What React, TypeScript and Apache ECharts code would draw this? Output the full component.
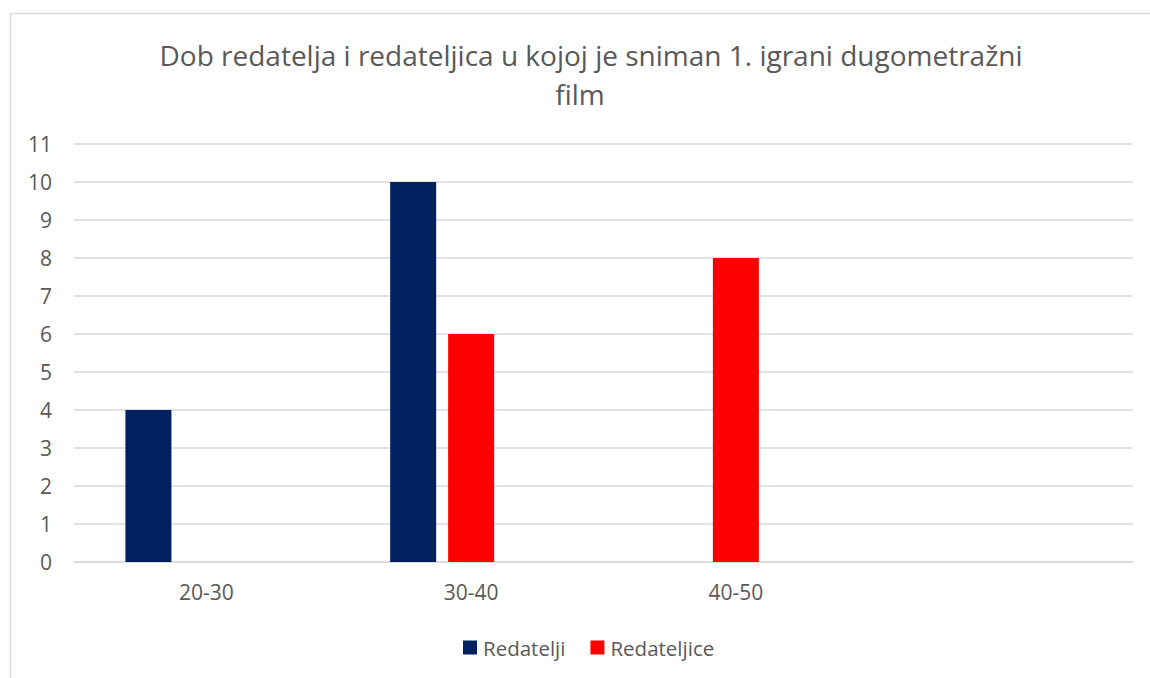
import React, { useEffect, useRef } from "react";
import * as echarts from "echarts";

const categories = ["20-30", "30-40", "40-50", ""];
const redatelji = [4, 10, null, null];
const redateljice = [null, 6, 8, null];
const emptySeries = [null, null, null, null];
const titleLine1 = "Dob redatelja i redateljica u kojoj je sniman 1. igrani dugometražni";
const titleLine2 = "film";

export default function App() {
  const ref = useRef<HTMLDivElement>(null);
  useEffect(() => {
    document.body.style.margin = "0";
    const chart = echarts.init(ref.current!, null, { renderer: "svg" });
    const font = "'Open Sans', sans-serif";
    chart.setOption({
      animation: false,
      backgroundColor: "#ffffff",
      title: [
        {
          text: titleLine1,
          left: 586,
          top: 36,
          textAlign: "center",
          textStyle: { fontFamily: font, fontSize: 28, fontWeight: "normal", color: "#595959" },
        },
        {
          text: titleLine2,
          left: 575,
          top: 75,
          textAlign: "center",
          textStyle: { fontFamily: font, fontSize: 28, fontWeight: "normal", color: "#595959" },
        },
      ],
      graphic: [
        {
          type: "rect",
          shape: { x: 10.5, y: 13.5, width: 1200, height: 700 },
          style: { fill: "none", stroke: "#d9d9d9", lineWidth: 1.5 },
          silent: true,
          z: -10,
        },
      ],
      legend: {
        data: ["Redatelji", "Redateljice"],
        left: 463,
        top: 637,
        padding: 0,
        itemWidth: 14,
        itemHeight: 14,
        itemGap: 25,
        icon: "rect",
        textStyle: { fontFamily: font, fontSize: 20.5, color: "#595959", padding: [0, 0, 0, 1] },
      },
      grid: { left: 74, right: 17, top: 144, bottom: 116, containLabel: false },
      xAxis: {
        type: "category",
        data: categories,
        axisLine: { lineStyle: { color: "#d9d9d9", width: 1.5 } },
        axisTick: { show: false },
        axisLabel: { fontFamily: font, fontSize: 21, color: "#595959", margin: 19 },
      },
      yAxis: {
        type: "value",
        min: 0,
        max: 11,
        interval: 1,
        axisLine: { show: false },
        axisTick: { show: false },
        splitLine: { lineStyle: { color: "#d9d9d9", width: 1.5 } },
        axisLabel: { fontFamily: font, fontSize: 21, color: "#595959", margin: 22 },
      },
      series: [
        {
          name: "Redatelji",
          type: "bar",
          data: redatelji,
          barWidth: 46,
          barGap: "26%",
          itemStyle: { color: "#002060" },
        },
        {
          name: "Redateljice",
          type: "bar",
          data: redateljice,
          barWidth: 46,
          barGap: "26%",
          itemStyle: { color: "#ff0000" },
        },
        {
          name: "empty",
          type: "bar",
          data: emptySeries,
          barWidth: 46,
          barGap: "26%",
          itemStyle: { color: "#a5a5a5" },
        },
      ],
    });
    return () => chart.dispose();
  }, []);
  return <div ref={ref} style={{ width: 1150, height: 678 }} />;
}
